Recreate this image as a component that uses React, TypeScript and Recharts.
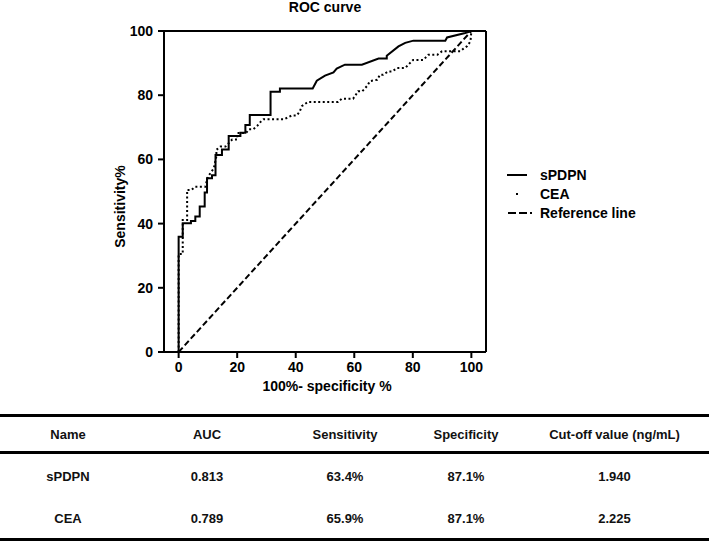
import React from "react";
import { LineChart, Line, XAxis, YAxis, Legend } from "recharts";

const xTicks = [0, 20, 40, 60, 80, 100];
const yTicks = [0, 20, 40, 60, 80, 100];

// ROC points: x = 100% - specificity, y = sensitivity
const sPDPN = [
  { x: 0, y: 0 }, { x: 0, y: 35.9 }, { x: 1.4, y: 35.9 }, { x: 1.4, y: 40.1 },
  { x: 4.2, y: 40.1 }, { x: 4.2, y: 40.8 }, { x: 5.7, y: 40.8 }, { x: 5.7, y: 42.2 },
  { x: 7.2, y: 42.2 }, { x: 7.2, y: 45.3 }, { x: 8.9, y: 45.3 }, { x: 8.9, y: 49.7 },
  { x: 9.7, y: 49.7 }, { x: 9.7, y: 54.1 }, { x: 11.4, y: 54.1 }, { x: 11.4, y: 55.1 },
  { x: 12.6, y: 55.1 }, { x: 12.6, y: 61.4 }, { x: 14.8, y: 61.4 }, { x: 14.8, y: 63.1 },
  { x: 17.1, y: 63.1 }, { x: 17.1, y: 67.3 }, { x: 21.1, y: 67.3 }, { x: 21.1, y: 68.3 },
  { x: 22.8, y: 68.3 }, { x: 22.8, y: 70.7 }, { x: 24.3, y: 70.7 }, { x: 24.3, y: 73.8 },
  { x: 31.4, y: 73.8 }, { x: 31.4, y: 81.1 }, { x: 34.6, y: 81.1 }, { x: 34.6, y: 82.1 },
  { x: 45.8, y: 82.1 }, { x: 47.2, y: 84.5 }, { x: 50.0, y: 86.1 }, { x: 52.9, y: 87.1 },
  { x: 54.0, y: 88.3 }, { x: 56.8, y: 89.5 }, { x: 62.6, y: 89.5 }, { x: 68.3, y: 91.4 },
  { x: 71.1, y: 91.4 }, { x: 71.1, y: 92.3 }, { x: 75.1, y: 95.2 }, { x: 77.4, y: 96.3 },
  { x: 80.2, y: 97.0 }, { x: 91.1, y: 97.0 }, { x: 91.7, y: 98.0 }, { x: 97.9, y: 99.4 },
  { x: 100, y: 100 },
];

const cea = [
  { x: 0, y: 0 }, { x: 0, y: 30.5 }, { x: 1.4, y: 30.5 }, { x: 1.4, y: 41.1 },
  { x: 2.9, y: 41.1 }, { x: 2.9, y: 50.5 }, { x: 4.4, y: 50.5 }, { x: 5.7, y: 51.5 },
  { x: 9.1, y: 51.5 }, { x: 10.0, y: 54.6 }, { x: 12.0, y: 57.2 }, { x: 12.9, y: 61.0 },
  { x: 12.9, y: 63.0 }, { x: 14.3, y: 64.0 }, { x: 16.0, y: 64.0 }, { x: 18.3, y: 66.2 },
  { x: 20.0, y: 66.2 }, { x: 20.0, y: 68.2 }, { x: 23.0, y: 68.2 }, { x: 24.0, y: 69.4 },
  { x: 25.5, y: 69.4 }, { x: 26.8, y: 70.4 }, { x: 28.0, y: 71.7 }, { x: 29.0, y: 72.5 },
  { x: 36.0, y: 72.5 }, { x: 38.7, y: 73.7 }, { x: 40.4, y: 73.7 }, { x: 41.4, y: 75.0 },
  { x: 42.1, y: 76.6 }, { x: 44.2, y: 77.9 }, { x: 54.5, y: 77.9 }, { x: 55.7, y: 78.9 },
  { x: 59.6, y: 78.9 }, { x: 61.3, y: 81.2 }, { x: 62.7, y: 81.2 }, { x: 64.3, y: 82.8 },
  { x: 65.4, y: 84.4 }, { x: 67.8, y: 84.8 }, { x: 68.8, y: 86.4 }, { x: 69.9, y: 86.4 },
  { x: 71.6, y: 87.4 }, { x: 72.9, y: 87.4 }, { x: 74.7, y: 88.5 }, { x: 77.4, y: 88.5 },
  { x: 80.1, y: 91.0 }, { x: 83.6, y: 91.0 }, { x: 85.3, y: 92.6 }, { x: 88.4, y: 92.6 },
  { x: 90.0, y: 93.7 }, { x: 96.2, y: 93.7 }, { x: 97.3, y: 94.5 }, { x: 98.6, y: 95.3 },
  { x: 99.7, y: 96.8 }, { x: 100, y: 100 },
];

const referenceLine = [
  { x: 0, y: 0 },
  { x: 100, y: 100 },
];

const legendItems = ["sPDPN", "CEA", "Reference line"];

const tableHeaders = ["Name", "AUC", "Sensitivity", "Specificity", "Cut-off value (ng/mL)"];
const tableRows = [
  ["sPDPN", "0.813", "63.4%", "87.1%", "1.940"],
  ["CEA", "0.789", "65.9%", "87.1%", "2.225"],
];
const colWidths = [136, 142, 134, 108, 189];

const font = "'Liberation Sans', Arial, sans-serif";
const tickStyle = { fontSize: 14, fontWeight: "bold", fill: "#000", fontFamily: font };
const axisStroke = { stroke: "#000", strokeWidth: 2 };

function LegendBox() {
  return (
    <div style={{ fontFamily: font, fontSize: 14, fontWeight: "bold", color: "#000" }}>
      {legendItems.map((name, i) => (
        <div key={name} style={{ display: "flex", alignItems: "center", height: 19 }}>
          <svg width={35} height={14}>
            {i === 0 && <line x1={2} y1={7} x2={22} y2={7} stroke="#000" strokeWidth={2} />}
            {i === 1 && <rect x={11} y={6} width={2} height={2} fill="#000" />}
            {i === 2 && (
              <line x1={3} y1={7} x2={27} y2={7} stroke="#000" strokeWidth={2} strokeDasharray="8 3" />
            )}
          </svg>
          <span>{name}</span>
        </div>
      ))}
    </div>
  );
}

function YLabel(props: any) {
  const { x, y, height } = props.viewBox;
  const cx = x + 16;
  const cy = y + height / 2 + 15;
  return (
    <text
      x={cx}
      y={cy}
      transform={`rotate(-90, ${cx}, ${cy})`}
      textAnchor="middle"
      dominantBaseline="central"
      style={{ fontSize: 14, fontWeight: "bold", fontFamily: font }}
      fill="#000"
    >
      Sensitivity%
    </text>
  );
}

function XLabel(props: any) {
  const { x, y, width } = props.viewBox;
  return (
    <text
      x={x + width / 2 + 2}
      y={y + 34}
      textAnchor="middle"
      dominantBaseline="central"
      style={{ fontSize: 14, fontWeight: "bold", fontFamily: font }}
      fill="#000"
    >
      100%- specificity %
    </text>
  );
}

function RocTable() {
  const cell = (text: string, j: number) => (
    <div key={j} style={{ width: colWidths[j], textAlign: "center" }}>
      {text}
    </div>
  );
  return (
    <div style={{ position: "absolute", left: 0, top: 414, width: 709, fontFamily: font, fontSize: 13, fontWeight: "bold", color: "#111" }}>
      <div style={{ height: 3, background: "#000" }} />
      <div style={{ display: "flex", height: 34, alignItems: "center" }}>{tableHeaders.map(cell)}</div>
      <div style={{ height: 3, background: "#000" }} />
      <div style={{ display: "flex", height: 44, alignItems: "center" }}>{tableRows[0].map(cell)}</div>
      <div style={{ display: "flex", height: 40, alignItems: "center" }}>{tableRows[1].map(cell)}</div>
      <div style={{ height: 3, background: "#000" }} />
    </div>
  );
}

export default function App() {
  return (
    <div style={{ position: "absolute", left: 0, top: 0, width: 709, height: 543, background: "#fff" }}>
      <LineChart width={709} height={400} margin={{ top: 21, right: 213, bottom: 8, left: 104 }}>
        <XAxis
          dataKey="x"
          type="number"
          domain={[-5, 105]}
          ticks={xTicks}
          height={40}
          tickSize={6}
          tickMargin={4}
          axisLine={axisStroke}
          tickLine={axisStroke}
          tick={tickStyle}
          label={<XLabel />}
        />
        <XAxis
          xAxisId="top"
          orientation="top"
          dataKey="x"
          type="number"
          domain={[-5, 105]}
          ticks={xTicks}
          height={10}
          tickSize={6}
          axisLine={axisStroke}
          tickLine={axisStroke}
          tick={false}
          label={{ value: "ROC curve", position: "top", offset: 9, style: { fontSize: 14, fontWeight: "bold", fontFamily: font, fill: "#000" } }}
        />
        <YAxis
          type="number"
          domain={[0, 100]}
          ticks={yTicks}
          width={60}
          tickSize={6}
          tickMargin={5}
          axisLine={axisStroke}
          tickLine={axisStroke}
          tick={tickStyle}
          label={<YLabel />}
        />
        <YAxis
          yAxisId="right"
          orientation="right"
          type="number"
          domain={[0, 100]}
          ticks={yTicks}
          width={10}
          tickSize={6}
          axisLine={axisStroke}
          tickLine={axisStroke}
          tick={false}
        />
        <Legend
          layout="vertical"
          align="center"
          verticalAlign="middle"
          wrapperStyle={{ left: 505, top: 165, width: 170 }}
          content={() => <LegendBox />}
        />
        <Line
          data={referenceLine}
          dataKey="y"
          name="Reference line"
          type="linear"
          stroke="#000"
          strokeWidth={2}
          strokeDasharray="6 3"
          dot={false}
          isAnimationActive={false}
        />
        <Line
          data={cea}
          dataKey="y"
          name="CEA"
          type="linear"
          stroke="#000"
          strokeWidth={2}
          strokeDasharray="2 2.5"
          dot={false}
          isAnimationActive={false}
        />
        <Line
          data={sPDPN}
          dataKey="y"
          name="sPDPN"
          type="linear"
          stroke="#000"
          strokeWidth={2}
          dot={false}
          isAnimationActive={false}
        />
      </LineChart>
      <RocTable />
    </div>
  );
}
